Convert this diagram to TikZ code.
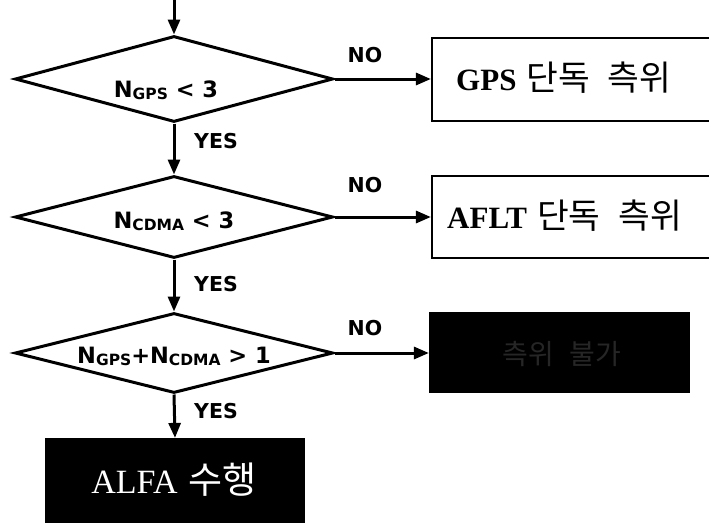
\documentclass[tikz,border=0pt]{standalone}
\usepackage{fontspec}
\setmainfont{Liberation Serif}
\newfontfamily\lblfont{DejaVu Sans}
\newfontfamily\krfont{Noto Sans CJK KR}
\usetikzlibrary{arrows.meta,shapes.geometric}

\tikzset{
  decision/.style={draw=black, line width=3pt, shape=diamond, inner sep=0pt,
    minimum width=318pt},
  flow/.style={line width=3pt, -{Triangle[length=15pt,width=12pt]}},
  outbox/.style={draw=black, line width=2.2pt, rectangle, inner sep=0pt},
  darkbox/.style={outbox, fill=black},
  yesno/.style={font=\lblfont\bfseries\fontsize{20.5}{20.5}\selectfont, inner sep=0pt},
  cond/.style={font=\lblfont\bfseries\fontsize{22.5}{22.5}\selectfont, inner sep=0pt, anchor=base},
  boxtext/.style={font=\fontsize{31}{31}\selectfont, inner sep=0pt, anchor=base}
}
\newcommand{\subsc}[1]{{\fontsize{15.5}{15.5}\selectfont\raisebox{-2.5pt}{#1}}}
\newcommand{\kr}[1]{{\krfont\mdseries\fontsize{34.5}{34.5}\selectfont #1}}

\begin{document}
\begin{tikzpicture}[x=1pt, y=-1pt]
  \useasboundingbox (0,0) rectangle (709,522);
  \clip (0,0) rectangle (709,522);

  % decisions
  \node[decision, minimum height=86pt] (d1) at (174,79) {};
  \node[decision, minimum height=82pt] (d2) at (174,217) {};
  \node[decision, minimum height=80pt] (d3) at (174,353) {};

  \node[cond] (t1) at (166,97) {N\subsc{GPS} < 3};
  \node[cond] (t2) at (174,228) {N\subsc{CDMA} < 3};
  \node[cond] (t3) at (174,363) {N\subsc{GPS}+N\subsc{CDMA} > 1};

  % outcome boxes
  \node[outbox, minimum width=310pt, minimum height=83pt] (b1) at (587,79.5) {};
  \node[outbox, minimum width=310pt, minimum height=82pt] (b2) at (587,217) {};
  \node[darkbox, minimum width=259pt, minimum height=79pt] (b3) at (559.5,352.5) {};
  \node[darkbox, minimum width=258pt, minimum height=110pt] (b4) at (175,494) {};

  \node[boxtext, anchor=base west] (l1) at (456,90) {\bfseries GPS\hspace{10pt}\kr{단독\hspace{18pt}측위}};
  \node[boxtext, anchor=base west] (l2) at (447,228) {\bfseries AFLT\hspace{10pt}\kr{단독\hspace{18pt}측위}};
  \node[boxtext, text=black!85] (l3) at (562,364) {\krfont\fontsize{28}{28}\selectfont 측위\hspace{16pt}불가};
  \node[boxtext, text=white, font=\fontsize{34}{34}\selectfont] (l4) at (174,493) {ALFA\hspace{11pt}{\krfont\fontsize{37}{37}\selectfont 수행}};

  % entry arrow
  \coordinate (start) at (174,0);
  \draw[flow] (start) -- (d1.north);

  % yes branch
  \draw[flow] (d1.south) -- (d2.north);
  \draw[flow] (d2.south) -- (d3.north);
  \draw[flow] (d3.south) -- (b4.north);

  % no branch
  \draw[flow] (d1.east) -- (d1.east -| b1.west);
  \draw[flow] (d2.east) -- (d2.east -| b2.west);
  \draw[flow] (d3.east) -- (d3.east -| b3.west);

  % branch labels
  \node[yesno] (y1) at (216,141) {YES};
  \node[yesno] (y2) at (216,284) {YES};
  \node[yesno] (y3) at (216,411) {YES};
  \node[yesno] (n1) at (365,55) {NO};
  \node[yesno] (n2) at (365,185) {NO};
  \node[yesno] (n3) at (365,328) {NO};
\end{tikzpicture}
\end{document}
